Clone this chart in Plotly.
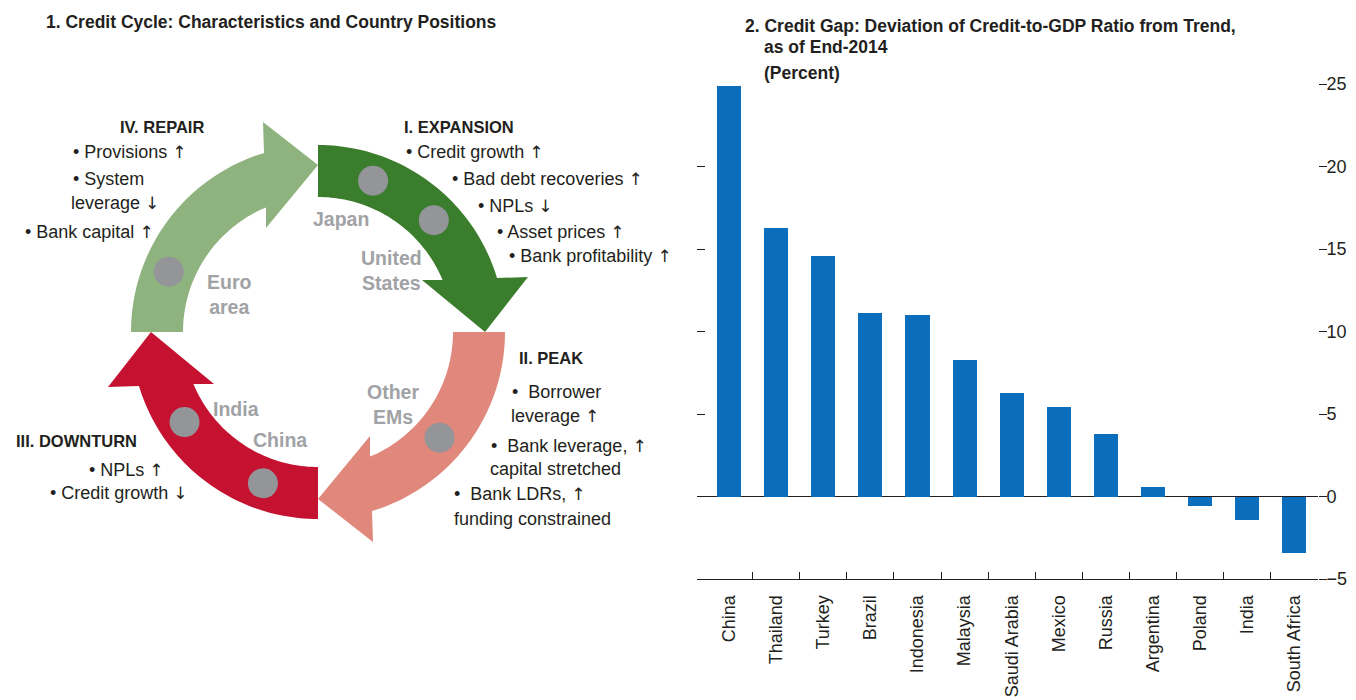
import math
import plotly.graph_objects as go

# page offset (browser body margin) and figure size so the picture fills 1356x700
OX, OY = 8, 8
W, H = 1356 - OX, 700 - OY

# ---------------- data ----------------
countries = ["China", "Thailand", "Turkey", "Brazil", "Indonesia", "Malaysia", "Saudi Arabia",
             "Mexico", "Russia", "Argentina", "Poland", "India", "South Africa"]
credit_gap = [24.9, 16.3, 14.6, 11.1, 11.0, 8.3, 6.3, 5.4, 3.8, 0.6, -0.6, -1.4, -3.4]
y_ticks = [-5, 0, 5, 10, 15, 20, 25]

# credit-cycle phases (rotation of the arrow in degrees, math convention)
phases = ["I. EXPANSION", "II. PEAK", "III. DOWNTURN", "IV. REPAIR"]
phase_colors = ["#3A7D2C", "#E0887B", "#C41230", "#8FB37F"]
phase_rotation = [0, -90, 180, 90]

# country positions on the cycle (angle in degrees around the circle)
cycle_countries = ["Japan", "United States", "Euro area", "Other EMs", "India", "China"]
cycle_angles = [70, 44, 158, -41, -146, -110]

FONT = "Liberation Sans, Arial, sans-serif"
INK = "#231F20"
GRAY = "#939598"

# screen pixels of the bar chart plot area
L, R, T, B = 697, 1318, 84, 579


def fx(p):
    return (p - OX) / W


def fy(p):
    return 1 - (p - OY) / H


fig = go.Figure()

# ---------------- bar chart ----------------
fig.add_trace(go.Bar(
    x=list(range(len(countries))), y=credit_gap, width=0.51,
    marker=dict(color="#0A6EBD", line=dict(width=0)),
    xaxis="x", yaxis="y", showlegend=False, hoverinfo="skip"))
fig.add_trace(go.Scatter(x=[0], y=[0], xaxis="x", yaxis="y2", mode="markers",
                         marker=dict(opacity=0), showlegend=False, hoverinfo="skip"))

# ---------------- credit-cycle diagram ----------------
CX, CY = 318, 332
R_OUT, R_IN, R_MID = 187, 135, 161


def arrow_path(rot):
    pts = []
    a_end = math.degrees(math.asin(54 / R_OUT))
    n = 48
    for i in range(n + 1):
        a = math.radians(90 + (a_end - 90) * i / n)
        pts.append((R_OUT * math.cos(a), R_OUT * math.sin(a)))
    pts += [(210, 55), (167, 0), (104, 52)]
    a_in = math.degrees(math.asin(52 / R_IN))
    for i in range(n + 1):
        a = math.radians(a_in + (90 - a_in) * i / n)
        pts.append((R_IN * math.cos(a), R_IN * math.sin(a)))
    r = math.radians(rot)
    out = []
    for x, y in pts:
        xr = x * math.cos(r) - y * math.sin(r)
        yr = x * math.sin(r) + y * math.cos(r)
        out.append((CX + xr, CY - yr))
    return "M " + " L ".join(f"{x:.2f},{y:.2f}" for x, y in out) + " Z"


shapes = []
for rot, col in zip(phase_rotation, phase_colors):
    shapes.append(dict(type="path", path=arrow_path(rot), xref="x2", yref="y3",
                       fillcolor=col, line=dict(width=0), layer="below"))

dot_x = [CX + R_MID * math.cos(math.radians(a)) for a in cycle_angles]
dot_y = [CY - R_MID * math.sin(math.radians(a)) for a in cycle_angles]
fig.add_trace(go.Scatter(x=dot_x, y=dot_y, xaxis="x2", yaxis="y3", mode="markers",
                         marker=dict(size=30, color=GRAY, line=dict(width=0)),
                         text=cycle_countries, hoverinfo="text", showlegend=False,
                         cliponaxis=False))

# ---------------- text ----------------
ann = []
UP = '<span style="font-family:DejaVu Sans;font-size:17px">↑</span>'
DN = '<span style="font-family:DejaVu Sans;font-size:17px">↓</span>'


def txt(x, y, s, size=18, bold=False, color=INK, anchor="left"):
    s = s.replace("↑", UP).replace("↓", DN)
    ann.append(dict(x=fx(x), y=fy(y), xref="paper", yref="paper", text=s,
                    showarrow=False, xanchor=anchor, yanchor="middle",
                    font=dict(family=FONT, size=size, color=color,
                              weight="bold" if bold else "normal")))


# titles
txt(44, 22, "1. Credit Cycle: Characteristics and Country Positions", 17.5, True)
txt(743, 26, "2. Credit Gap: Deviation of Credit-to-GDP Ratio from Trend,", 17.5, True)
txt(762, 47, "as of End-2014", 17.5, True)
txt(762, 73, "(Percent)", 17.5, True)

# phase headings
txt(118, 127, "IV. REPAIR", 16.5, True)
txt(402, 127, "I. EXPANSION", 16.5, True)
txt(517, 358, "II. PEAK", 16.5, True)
txt(14, 441, "III. DOWNTURN", 16.5, True)

# phase characteristics
lines = [
    (71, 152, "• Provisions ↑"), (71, 179, "• System"), (69, 203, "leverage ↓"),
    (23, 232, "• Bank capital ↑"),
    (404, 152, "• Credit growth ↑"), (450, 179, "• Bad debt recoveries ↑"),
    (476, 206, "• NPLs ↓"), (495, 232, "• Asset prices ↑"),
    (507, 256, "• Bank profitability ↑"),
    (510, 392, "•  Borrower"), (509, 416, "leverage ↑"),
    (489, 446, "•  Bank leverage, ↑"), (488, 469, "capital stretched"),
    (452, 494, "•  Bank LDRs, ↑"), (452, 519, "funding constrained"),
    (87, 470, "• NPLs ↑"), (48, 493, "• Credit growth ↓"),
]
for x, y, s in lines:
    txt(x, y, s, 18)

# country labels
label_pos = {
    "Japan": (311, 219, "Japan"),
    "United States": (359, 270, "United<br>States"),
    "Euro area": (205, 294, "Euro<br>area"),
    "Other EMs": (365, 405, "Other<br>EMs"),
    "India": (211, 409, "India"),
    "China": (251, 440, "China"),
}
for c in cycle_countries:
    x, y, s = label_pos[c]
    txt(x, y, s, 19.5, True, "#A0A2A5")

fig.update_layout(
    width=W, height=H, autosize=False,
    margin=dict(l=0, r=0, t=0, b=0),
    paper_bgcolor="white", plot_bgcolor="rgba(0,0,0,0)",
    bargap=0, showlegend=False,
    shapes=shapes, annotations=ann,
    xaxis=dict(domain=[fx(L), fx(R)], range=[-0.68, 12.5], anchor="y",
               tickmode="array", tickvals=list(range(len(countries))), ticktext=countries,
               tickangle=-90, ticks="", showline=True, linecolor=INK, linewidth=1,
               showgrid=False, zeroline=False, automargin=False,
               ticklabelstandoff=8,
               tickfont=dict(family=FONT, size=18, color=INK),
               minor=dict(tickmode="array", tickvals=[i + 0.5 for i in range(len(countries) - 1)],
                          ticks="inside", ticklen=7, tickcolor=INK, tickwidth=1, showgrid=False)),
    yaxis=dict(domain=[fy(B), fy(T)], range=[-5, 25], anchor="x", side="right",
               tickmode="array", tickvals=y_ticks, ticks="outside", ticklen=8,
               tickcolor=INK, tickwidth=1, showgrid=False, showline=False,
               zeroline=True, zerolinecolor=INK, zerolinewidth=1, automargin=False,
               ticklabelstandoff=-4,
               tickfont=dict(family=FONT, size=18, color=INK)),
    yaxis2=dict(domain=[fy(B), fy(T)], range=[-5, 25], overlaying="y", anchor="x",
                side="left", tickmode="array", tickvals=y_ticks, ticks="inside", ticklen=8,
                tickcolor=INK, showticklabels=False, showgrid=False, zeroline=False,
                showline=False, automargin=False),
    xaxis2=dict(domain=[0, fx(690)], range=[OX, 690], anchor="y3", visible=False,
                showgrid=False, zeroline=False),
    yaxis3=dict(domain=[0, 1], range=[OY + H, OY], anchor="x2", visible=False,
                showgrid=False, zeroline=False),
)

fig.write_html("out.html")
